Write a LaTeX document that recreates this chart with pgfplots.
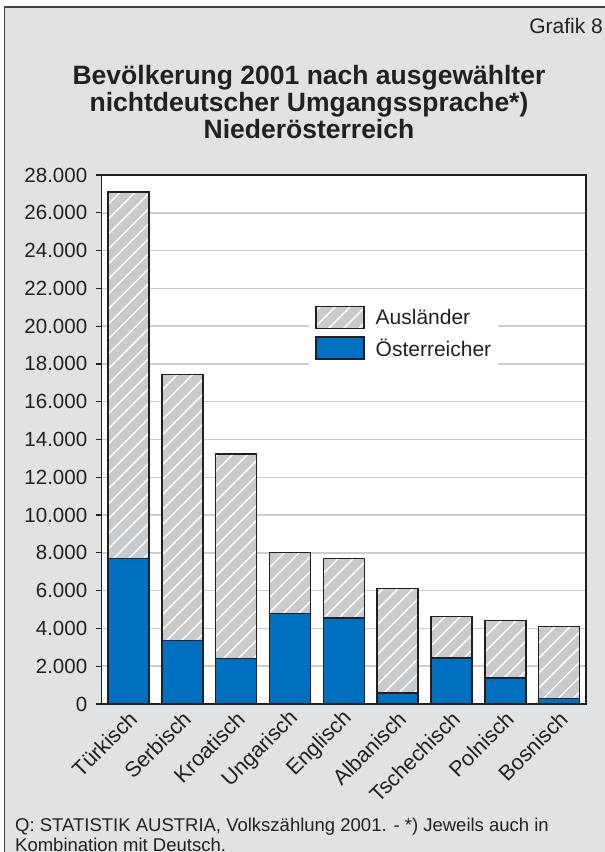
\documentclass[border=0pt]{standalone}
\usepackage{fontspec}
\setmainfont{Liberation Sans}
\usepackage{pgfplots}
\pgfplotsset{compat=1.18}
\usetikzlibrary{patterns.meta}
\definecolor{bggray}{RGB}{225,226,228}
\definecolor{hatchgray}{RGB}{201,202,204}
\definecolor{ablue}{RGB}{0,112,192}
\definecolor{edge}{RGB}{35,31,32}
\definecolor{gridgray}{RGB}{204,204,204}
\begin{document}
\begin{tikzpicture}
\useasboundingbox (0pt,0pt) rectangle (605pt,-852pt);
\fill[white] (0pt,0pt) rectangle (605pt,-852pt);
\fill[bggray] (4.5pt,-7pt) rectangle (605pt,-852pt);
\draw[edge!85, line width=1.2pt] (4.5pt,-852pt) -- (4.5pt,-7pt) -- (605pt,-7pt);
\node[anchor=base east, inner sep=0pt, font=\fontsize{21}{24}\selectfont, text=edge] at (603pt,-33pt) {Grafik 8};
\node[anchor=base, inner sep=0pt, font=\fontsize{26.5}{27}\selectfont\bfseries, text=edge] at (309pt,-84pt) {Bevölkerung 2001 nach ausgewählter};
\node[anchor=base, inner sep=0pt, font=\fontsize{26.5}{27}\selectfont\bfseries, text=edge] at (309pt,-111pt) {nichtdeutscher Umgangssprache*)};
\node[anchor=base, inner sep=0pt, font=\fontsize{26.5}{27}\selectfont\bfseries, text=edge] at (309pt,-138pt) {Niederösterreich};
\node[anchor=base west, inner sep=0pt, font=\fontsize{18.5}{21}\selectfont, text=edge] at (15pt,-831pt) {Q: STATISTIK AUSTRIA, Volkszählung 2001. - *) Jeweils auch in};
\node[anchor=base west, inner sep=0pt, font=\fontsize{18.5}{21}\selectfont, text=edge] at (15pt,-851pt) {Kombination mit Deutsch.};
\begin{axis}[
  at={(101.7pt,-704pt)}, anchor=south west,
  width=484.3pt, height=529pt, scale only axis,
  xmin=-0.5, xmax=8.5, ymin=0, ymax=28000,
  ybar stacked, bar width=41pt,
  xtick={0,1,2,3,4,5,6,7,8},
  xticklabels={Türkisch,Serbisch,Kroatisch,Ungarisch,Englisch,Albanisch,Tschechisch,Polnisch,Bosnisch},
  ytick={0,2000,4000,6000,8000,10000,12000,14000,16000,18000,20000,22000,24000,26000,28000},
  scaled y ticks=false,
  ymajorgrids, grid style={gridgray, line width=1.5pt},
  axis line style={edge, line width=1.3pt},
  tick align=outside, tick pos=left, major tick length=6pt,
  ytick style={edge, line width=1.2pt},
  xtick style={draw=none},
  yticklabel style={/pgf/number format/.cd, 1000 sep={.}, assume math mode=true, /tikz/.cd, font=\fontsize{20.5}{24}\selectfont, text=edge, xshift=-5pt},
  xticklabel style={rotate=45, anchor=east, font=\fontsize{21.5}{24}\selectfont, text=edge, xshift=3pt, yshift=-7pt},
  axis background/.style={fill=white},
  legend cell align=left,
  reverse legend,
  legend image code/.code={\draw[#1] (0pt,-11pt) rectangle (48pt,11pt);},
  legend style={at={(0.428,0.768)}, anchor=north west, draw=none, fill=white,
    font=\fontsize{21}{24}\selectfont, text=edge, inner xsep=6pt, inner ysep=8pt,
    row sep=7pt, nodes={inner sep=1pt},
    /tikz/every odd column/.append style={column sep=10pt}},
]
\addplot[fill=ablue, draw=edge, line width=1.5pt] coordinates {
  (0,7700) (1,3370) (2,2400) (3,4780) (4,4540) (5,570) (6,2430) (7,1380) (8,280)};
\addplot[preaction={fill=hatchgray}, pattern={Lines[angle=45,distance=10.6pt,line width=1.4pt]}, pattern color=white, draw=edge, line width=1.5pt] coordinates {
  (0,19400) (1,14080) (2,10840) (3,3250) (4,3170) (5,5550) (6,2210) (7,3050) (8,3810)};
\legend{Österreicher, Ausländer}
\end{axis}
\end{tikzpicture}
\end{document}
